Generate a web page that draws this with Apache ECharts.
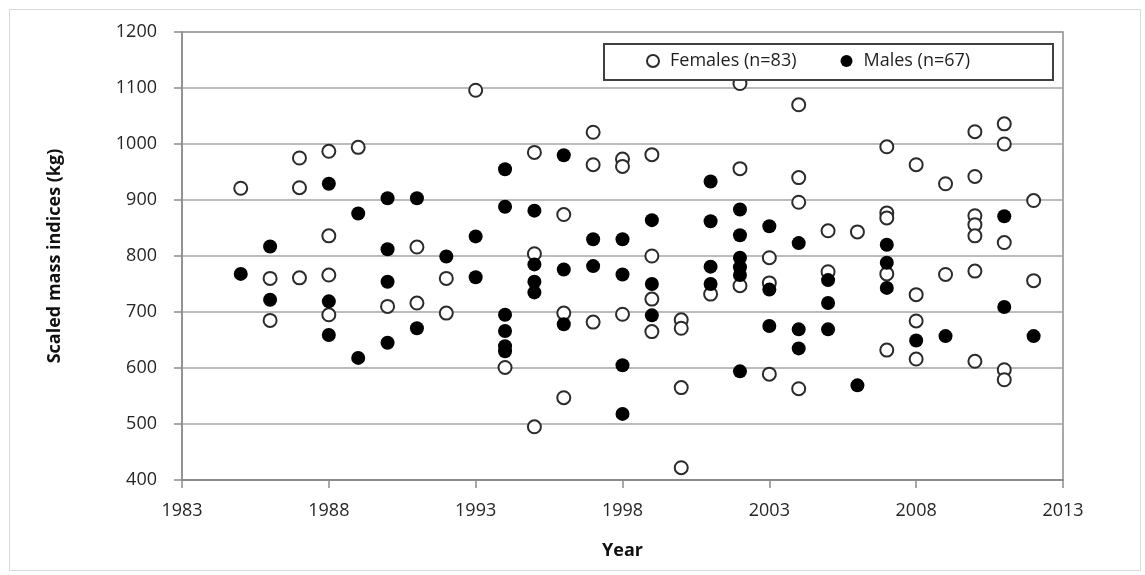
<!DOCTYPE html>
<html>
<head>
<meta charset="utf-8">
<script src="https://cdn.jsdelivr.net/npm/echarts@6/dist/echarts.min.js"></script>
<style>
  html, body { margin: 0; padding: 0; background: #fff; }
  #main { width: 1145px; height: 575px; }
</style>
</head>
<body>
<div id="main"></div>
<script>
// females (open circles)
var femaleYears = [
  1985, 1986, 1986, 1987, 1987, 1987, 1988, 1988, 1988, 1988,
  1989, 1990, 1991, 1991, 1992, 1992, 1993, 1994, 1995, 1995, 1995,
  1996, 1996, 1996, 1997, 1997, 1997, 1998, 1998, 1998,
  1999, 1999, 1999, 1999, 2000, 2000, 2000, 2000, 2001,
  2002, 2002, 2002, 2003, 2003, 2003, 2004, 2004, 2004, 2004,
  2005, 2005, 2006, 2007, 2007, 2007, 2007, 2007,
  2008, 2008, 2008, 2008, 2009, 2009,
  2010, 2010, 2010, 2010, 2010, 2010, 2010,
  2011, 2011, 2011, 2011, 2011, 2012, 2012
];
var femaleMass = [
  921, 760, 685, 975, 922, 761, 987, 836, 766, 695,
  994, 710, 816, 716, 760, 698, 1096, 601, 985, 804, 495,
  874, 698, 547, 1021, 963, 682, 973, 960, 696,
  981, 800, 723, 665, 686, 671, 565, 422, 732,
  1108, 956, 747, 797, 752, 589, 1070, 940, 896, 563,
  845, 772, 843, 995, 877, 868, 768, 632,
  963, 731, 684, 616, 929, 767,
  1022, 942, 872, 856, 836, 773, 612,
  1036, 1000, 824, 597, 579, 899, 756
];

// males (filled circles)
var maleYears = [
  1985, 1986, 1986, 1988, 1988, 1988, 1989, 1989,
  1990, 1990, 1990, 1990, 1991, 1991, 1992, 1993, 1993,
  1994, 1994, 1994, 1994, 1994, 1994, 1995, 1995, 1995, 1995,
  1996, 1996, 1996, 1997, 1997, 1998, 1998, 1998, 1998,
  1999, 1999, 1999, 2001, 2001, 2001, 2001,
  2002, 2002, 2002, 2002, 2002, 2002, 2003, 2003, 2003,
  2004, 2004, 2004, 2005, 2005, 2005, 2006, 2007, 2007, 2007,
  2008, 2009, 2011, 2011, 2012
];
var maleMass = [
  768, 817, 722, 929, 719, 659, 876, 618,
  903, 812, 754, 645, 903, 671, 799, 835, 762,
  955, 888, 695, 666, 639, 630, 881, 785, 754, 735,
  980, 776, 678, 830, 782, 830, 767, 605, 518,
  864, 750, 694, 933, 862, 781, 750,
  883, 837, 797, 780, 766, 594, 853, 740, 675,
  823, 669, 635, 757, 716, 669, 569, 820, 788, 743,
  649, 657, 871, 709, 657
];

var seriesNames = ['Females (n=83)', 'Males (n=67)'];
var yearTicks = { min: 1983, max: 2013, step: 5 };
var massTicks = { min: 400, max: 1200, step: 100 };

var font = '"Open Sans", "Noto Sans", sans-serif';

function pairs(xs, ys) {
  return xs.map(function (x, i) { return [x, ys[i]]; });
}

// plain numbers, no thousand separators
function plain(v) { return String(v); }

var chart = echarts.init(document.getElementById('main'), null, { renderer: 'canvas' });

chart.setOption({
  backgroundColor: '#ffffff',
  animation: false,
  graphic: [
    // outer chart frame
    {
      type: 'rect', left: 7, top: 7, z: -10,
      shape: { width: 1131, height: 561 },
      style: { fill: 'none', stroke: '#d9d9d9', lineWidth: 1 }
    },
    // legend box
    {
      type: 'rect', left: 603, top: 43, z: 5,
      shape: { width: 449, height: 36 },
      style: { fill: '#ffffff', stroke: '#404040', lineWidth: 2 }
    }
  ],
  legend: {
    data: seriesNames,
    left: 646,
    top: 52,
    z: 10,
    padding: 0,
    itemWidth: 12,
    itemHeight: 12,
    itemGap: 44,
    textStyle: { fontFamily: font, fontSize: 18, color: '#1f1f1f', padding: [0, 0, 0, 6] }
  },
  grid: {
    left: 182, right: 82, top: 32, bottom: 95,
    show: true,
    borderColor: '#8c8c8c',
    borderWidth: 1.5
  },
  xAxis: {
    type: 'value',
    min: yearTicks.min,
    max: yearTicks.max,
    interval: yearTicks.step,
    name: 'Year',
    nameLocation: 'middle',
    nameGap: 62,
    nameTextStyle: { fontFamily: font, fontSize: 18, fontWeight: 'bold', color: '#111' },
    axisLine: { lineStyle: { color: '#8c8c8c', width: 2 } },
    axisTick: { show: true, length: 8, lineStyle: { color: '#8c8c8c', width: 1.5 } },
    axisLabel: { margin: 22, fontFamily: font, fontSize: 18, color: '#262626', formatter: plain },
    splitLine: { show: false }
  },
  yAxis: {
    type: 'value',
    min: massTicks.min,
    max: massTicks.max,
    interval: massTicks.step,
    name: 'Scaled mass indices (kg)',
    nameLocation: 'middle',
    nameGap: 118,
    nameTextStyle: { fontFamily: font, fontSize: 18, fontWeight: 'bold', color: '#111' },
    axisLine: { show: true, lineStyle: { color: '#8c8c8c', width: 1.5 } },
    axisTick: { show: true, length: 8, lineStyle: { color: '#8c8c8c', width: 1.5 } },
    axisLabel: { margin: 25, fontFamily: font, fontSize: 18, color: '#262626', formatter: plain },
    splitLine: { show: true, lineStyle: { color: '#a6a6a6', width: 1.5 } }
  },
  series: [
    {
      name: seriesNames[0],
      type: 'scatter',
      symbol: 'circle',
      symbolSize: 13,
      itemStyle: { color: '#ffffff', borderColor: '#2b2b2b', borderWidth: 2, opacity: 1 },
      data: pairs(femaleYears, femaleMass)
    },
    {
      name: seriesNames[1],
      type: 'scatter',
      symbol: 'circle',
      symbolSize: 14,
      itemStyle: { color: '#000000', opacity: 1 },
      data: pairs(maleYears, maleMass)
    }
  ]
});
</script>
</body>
</html>
